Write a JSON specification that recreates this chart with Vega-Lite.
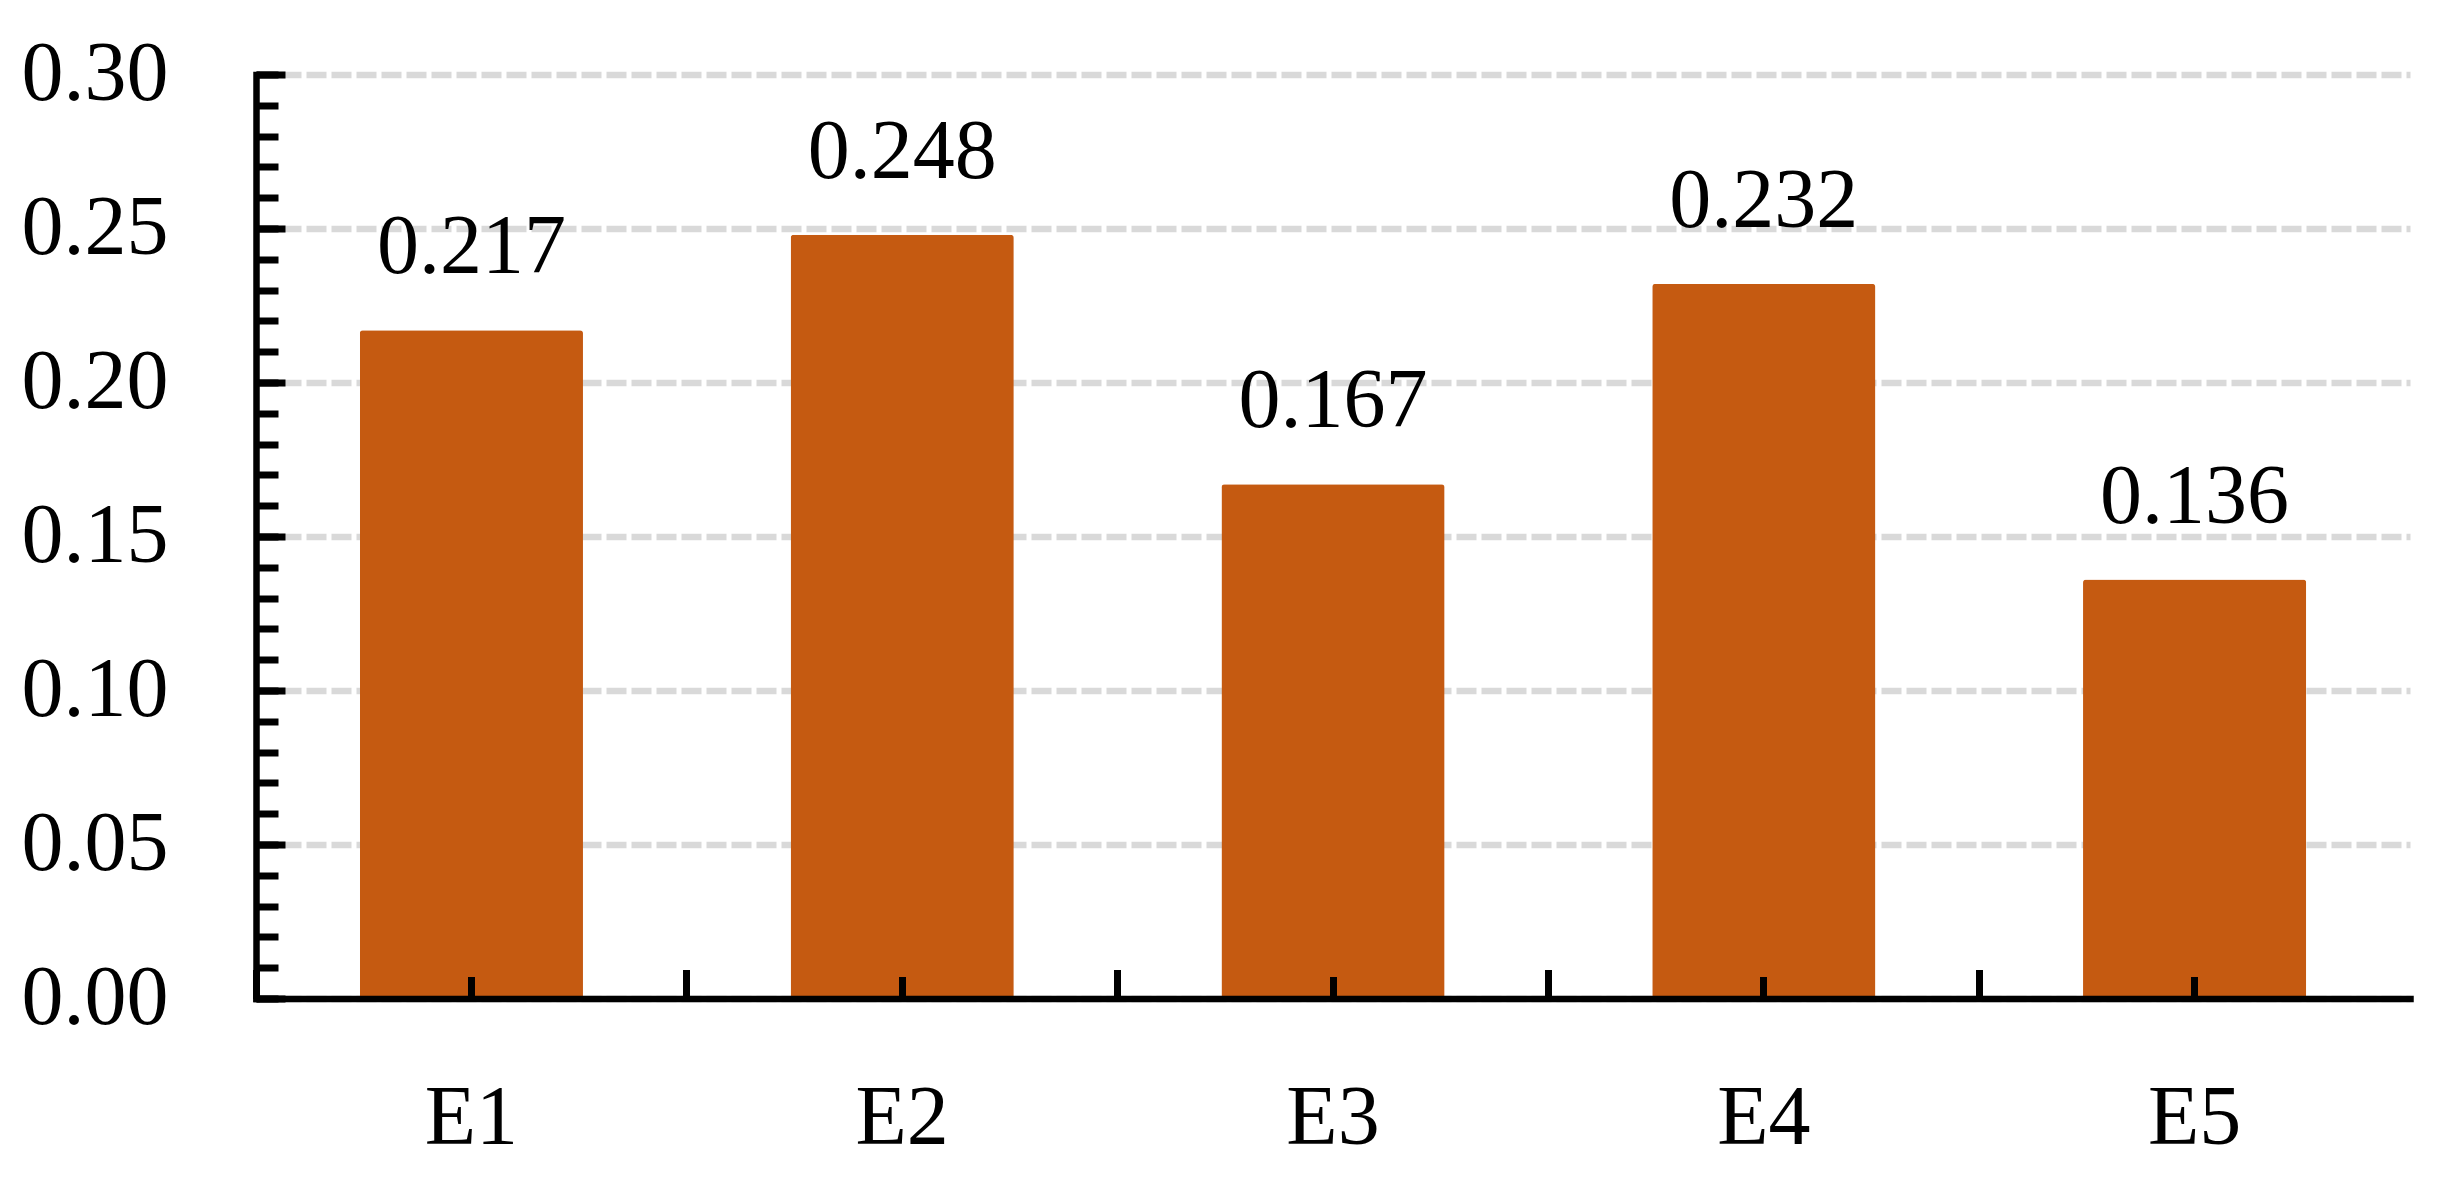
{
  "$schema": "https://vega.github.io/schema/vega-lite/v6.json",
  "width": 2154,
  "height": 924,
  "autosize": {"type": "none"},
  "padding": {"left": 256, "top": 74.5, "right": 37, "bottom": 181.5},
  "background": "white",
  "config": {"view": {"stroke": null}},
  "data": {"values": [
    {"cat": "E1", "v": 0.217},
    {"cat": "E2", "v": 0.248},
    {"cat": "E3", "v": 0.167},
    {"cat": "E4", "v": 0.232},
    {"cat": "E5", "v": 0.136}
  ]},
  "resolve": {"axis": {"x": "independent", "y": "independent"}},
  "layer": [
    {
      "mark": {"type": "bar", "color": "#C55A11", "width": {"band": 0.518}, "cornerRadius": 3},
      "encoding": {
        "x": {
          "field": "cat", "type": "nominal", "sort": null,
          "scale": {"paddingInner": 0, "paddingOuter": 0},
          "axis": {
            "title": null, "orient": "bottom",
            "domain": true, "domainColor": "black", "domainWidth": 6.5, "domainCap": "square",
            "ticks": true, "tickColor": "black", "tickWidth": 7, "tickSize": -22,
            "labelFont": "Liberation Serif", "labelFontSize": 84, "labelColor": "black",
            "labelAngle": 0, "labelBaseline": "alphabetic", "labelPadding": 166.5,
            "grid": false, "zindex": 1
          }
        },
        "y": {
          "field": "v", "type": "quantitative",
          "scale": {"domain": [0, 0.3], "nice": false, "zero": true},
          "axis": {
            "title": null, "orient": "left",
            "values": [0, 0.01, 0.02, 0.03, 0.04, 0.05, 0.06, 0.07, 0.08, 0.09, 0.1, 0.11, 0.12, 0.13, 0.14, 0.15, 0.16, 0.17, 0.18, 0.19, 0.2, 0.21, 0.22, 0.23, 0.24, 0.25, 0.26, 0.27, 0.28, 0.29, 0.3],
            "domain": true, "domainColor": "black", "domainWidth": 6.5, "domainCap": "square",
            "ticks": true, "tickColor": "black", "tickWidth": 7, "tickSize": -22,
            "labels": false, "grid": false,
            "zindex": 1
          }
        }
      }
    },
    {
      "mark": {"type": "text", "font": "Liberation Serif", "fontSize": 84, "color": "black", "baseline": "alphabetic", "align": "center", "dy": -57},
      "encoding": {
        "x": {
          "field": "cat", "type": "nominal", "sort": null,
          "axis": {
            "title": null, "orient": "bottom", "bandPosition": 0,
            "domain": false, "labels": false, "grid": false,
            "ticks": true, "tickColor": "black", "tickWidth": 7, "tickSize": -29,
            "zindex": 1
          }
        },
        "y": {
          "field": "v", "type": "quantitative",
          "axis": {
            "title": null, "orient": "left",
            "values": [0, 0.05, 0.1, 0.15, 0.2, 0.25, 0.3],
            "format": ".2f",
            "domain": false,
            "ticks": true, "tickColor": "black", "tickWidth": 7, "tickSize": -29,
            "labelFont": "Liberation Serif", "labelFontSize": 84, "labelColor": "black",
            "labelBaseline": "middle", "labelPadding": 117, "labelAlign": "right",
            "grid": true, "gridColor": "#d9d9d9", "gridWidth": 6.5, "gridDash": [20, 5],
            "zindex": 0
          }
        },
        "text": {"field": "v", "type": "quantitative", "format": ".3f"}
      }
    }
  ]
}
